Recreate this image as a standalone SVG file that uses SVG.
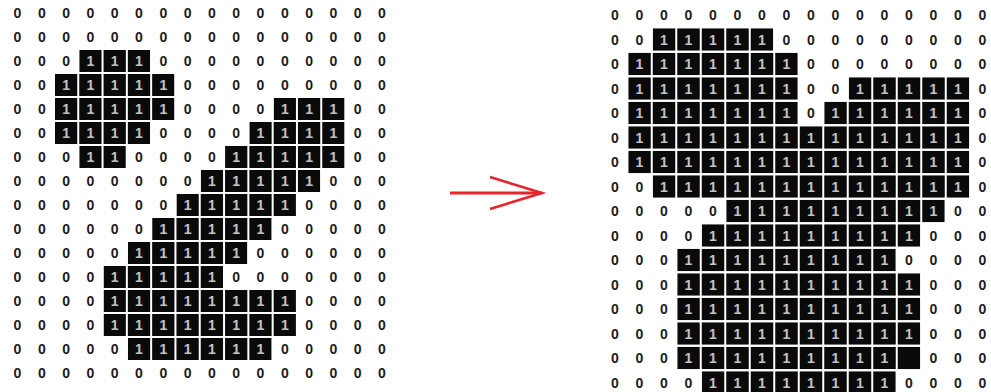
<svg xmlns="http://www.w3.org/2000/svg" width="991" height="392" viewBox="0 0 991 392">
<style>
text{font-family:"Liberation Sans",Arial,sans-serif;font-size:14px;font-weight:bold;text-anchor:middle;fill:#1c1c1c}
.o{fill:#c4c4c4}
.blk{fill:#0a0a0a}
.gl{stroke:#ffffff;stroke-width:2;fill:none}
.arw{stroke:#e3262b;fill:none;stroke-width:3}
</style>
<defs>
<marker id="vhead" markerUnits="userSpaceOnUse" markerWidth="60" markerHeight="40" viewBox="0 0 60 40" refX="54" refY="20" orient="auto">
<path d="M2,4 L54,20 L2,36" fill="none" stroke="#e3262b" stroke-width="2.6"/>
</marker>
</defs>
<rect width="991" height="392" fill="#ffffff"/>

<g id="input-grid">
<g class="blk">
<rect x="79.25" y="50" width="70.9" height="22"/>
<rect x="54.95" y="74" width="119.5" height="22"/>
<rect x="54.95" y="98" width="119.5" height="22"/>
<rect x="273.65" y="98" width="70.9" height="22"/>
<rect x="54.95" y="122" width="95.2" height="22"/>
<rect x="249.35" y="122" width="95.2" height="22"/>
<rect x="79.25" y="146" width="46.6" height="22"/>
<rect x="225.05" y="146" width="119.5" height="22"/>
<rect x="200.75" y="170" width="119.5" height="22"/>
<rect x="176.45" y="194" width="119.5" height="22"/>
<rect x="152.15" y="218" width="119.5" height="22"/>
<rect x="127.85" y="242" width="119.5" height="22"/>
<rect x="103.55" y="266" width="119.5" height="22"/>
<rect x="103.55" y="290" width="192.4" height="22"/>
<rect x="103.55" y="314" width="192.4" height="22"/>
<rect x="127.85" y="338" width="143.8" height="22"/>
</g>
<path class="gl" d="M29.65 0V392M53.95 0V392M78.25 0V392M102.55 0V392M126.85 0V392M151.15 0V392M175.45 0V392M199.75 0V392M224.05 0V392M248.35 0V392M272.65 0V392M296.95 0V392M321.25 0V392M345.55 0V392M369.85 0V392M0 25H395M0 49H395M0 73H395M0 97H395M0 121H395M0 145H395M0 169H395M0 193H395M0 217H395M0 241H395M0 265H395M0 289H395M0 313H395M0 337H395M0 361H395"/>
<text y="18"><tspan x="17.5 41.8 66.1 90.4 114.7 139 163.3 187.6 211.9 236.2 260.5 284.8 309.1 333.4 357.7 382">0000000000000000</tspan></text>
<text y="42"><tspan x="17.5 41.8 66.1 90.4 114.7 139 163.3 187.6 211.9 236.2 260.5 284.8 309.1 333.4 357.7 382">0000000000000000</tspan></text>
<text y="66"><tspan x="17.5 41.8 66.1">000</tspan><tspan class="o" x="90.4 114.7 139">111</tspan><tspan x="163.3 187.6 211.9 236.2 260.5 284.8 309.1 333.4 357.7 382">0000000000</tspan></text>
<text y="90"><tspan x="17.5 41.8">00</tspan><tspan class="o" x="66.1 90.4 114.7 139 163.3">11111</tspan><tspan x="187.6 211.9 236.2 260.5 284.8 309.1 333.4 357.7 382">000000000</tspan></text>
<text y="114"><tspan x="17.5 41.8">00</tspan><tspan class="o" x="66.1 90.4 114.7 139 163.3">11111</tspan><tspan x="187.6 211.9 236.2 260.5">0000</tspan><tspan class="o" x="284.8 309.1 333.4">111</tspan><tspan x="357.7 382">00</tspan></text>
<text y="138"><tspan x="17.5 41.8">00</tspan><tspan class="o" x="66.1 90.4 114.7 139">1111</tspan><tspan x="163.3 187.6 211.9 236.2">0000</tspan><tspan class="o" x="260.5 284.8 309.1 333.4">1111</tspan><tspan x="357.7 382">00</tspan></text>
<text y="162"><tspan x="17.5 41.8 66.1">000</tspan><tspan class="o" x="90.4 114.7">11</tspan><tspan x="139 163.3 187.6 211.9">0000</tspan><tspan class="o" x="236.2 260.5 284.8 309.1 333.4">11111</tspan><tspan x="357.7 382">00</tspan></text>
<text y="186"><tspan x="17.5 41.8 66.1 90.4 114.7 139 163.3 187.6">00000000</tspan><tspan class="o" x="211.9 236.2 260.5 284.8 309.1">11111</tspan><tspan x="333.4 357.7 382">000</tspan></text>
<text y="210"><tspan x="17.5 41.8 66.1 90.4 114.7 139 163.3">0000000</tspan><tspan class="o" x="187.6 211.9 236.2 260.5 284.8">11111</tspan><tspan x="309.1 333.4 357.7 382">0000</tspan></text>
<text y="234"><tspan x="17.5 41.8 66.1 90.4 114.7 139">000000</tspan><tspan class="o" x="163.3 187.6 211.9 236.2 260.5">11111</tspan><tspan x="284.8 309.1 333.4 357.7 382">00000</tspan></text>
<text y="258"><tspan x="17.5 41.8 66.1 90.4 114.7">00000</tspan><tspan class="o" x="139 163.3 187.6 211.9 236.2">11111</tspan><tspan x="260.5 284.8 309.1 333.4 357.7 382">000000</tspan></text>
<text y="282"><tspan x="17.5 41.8 66.1 90.4">0000</tspan><tspan class="o" x="114.7 139 163.3 187.6 211.9">11111</tspan><tspan x="236.2 260.5 284.8 309.1 333.4 357.7 382">0000000</tspan></text>
<text y="306"><tspan x="17.5 41.8 66.1 90.4">0000</tspan><tspan class="o" x="114.7 139 163.3 187.6 211.9 236.2 260.5 284.8">11111111</tspan><tspan x="309.1 333.4 357.7 382">0000</tspan></text>
<text y="330"><tspan x="17.5 41.8 66.1 90.4">0000</tspan><tspan class="o" x="114.7 139 163.3 187.6 211.9 236.2 260.5 284.8">11111111</tspan><tspan x="309.1 333.4 357.7 382">0000</tspan></text>
<text y="354"><tspan x="17.5 41.8 66.1 90.4 114.7">00000</tspan><tspan class="o" x="139 163.3 187.6 211.9 236.2 260.5">111111</tspan><tspan x="284.8 309.1 333.4 357.7 382">00000</tspan></text>
<text y="378"><tspan x="17.5 41.8 66.1 90.4 114.7 139 163.3 187.6 211.9 236.2 260.5 284.8 309.1 333.4 357.7 382">0000000000000000</tspan></text>
</g>

<g id="output-grid">
<g class="blk">
<rect x="652.75" y="28.25" width="120.5" height="22.5"/>
<rect x="628.25" y="52.75" width="169.5" height="22.5"/>
<rect x="628.25" y="77.25" width="169.5" height="22.5"/>
<rect x="848.75" y="77.25" width="120.5" height="22.5"/>
<rect x="628.25" y="101.75" width="169.5" height="22.5"/>
<rect x="824.25" y="101.75" width="145" height="22.5"/>
<rect x="628.25" y="126.25" width="341" height="22.5"/>
<rect x="628.25" y="150.75" width="341" height="22.5"/>
<rect x="652.75" y="175.25" width="316.5" height="22.5"/>
<rect x="726.25" y="199.75" width="218.5" height="22.5"/>
<rect x="701.75" y="224.25" width="218.5" height="22.5"/>
<rect x="677.25" y="248.75" width="218.5" height="22.5"/>
<rect x="677.25" y="273.25" width="243" height="22.5"/>
<rect x="677.25" y="297.75" width="243" height="22.5"/>
<rect x="677.25" y="322.25" width="243" height="22.5"/>
<rect x="677.25" y="346.75" width="243" height="22.5"/>
<rect x="701.75" y="371.25" width="194" height="22.5"/>
</g>
<path class="gl" d="M627.25 0V392M651.75 0V392M676.25 0V392M700.75 0V392M725.25 0V392M749.75 0V392M774.25 0V392M798.75 0V392M823.25 0V392M847.75 0V392M872.25 0V392M896.75 0V392M921.25 0V392M945.75 0V392M970.25 0V392M600 27.25H991M600 51.75H991M600 76.25H991M600 100.75H991M600 125.25H991M600 149.75H991M600 174.25H991M600 198.75H991M600 223.25H991M600 247.75H991M600 272.25H991M600 296.75H991M600 321.25H991M600 345.75H991M600 370.25H991"/>
<text y="20"><tspan x="615 639.5 664 688.5 713 737.5 762 786.5 811 835.5 860 884.5 909 933.5 958 982.5">0000000000000000</tspan></text>
<text y="44.5"><tspan x="615 639.5">00</tspan><tspan class="o" x="664 688.5 713 737.5 762">11111</tspan><tspan x="786.5 811 835.5 860 884.5 909 933.5 958 982.5">000000000</tspan></text>
<text y="69"><tspan x="615">0</tspan><tspan class="o" x="639.5 664 688.5 713 737.5 762 786.5">1111111</tspan><tspan x="811 835.5 860 884.5 909 933.5 958 982.5">00000000</tspan></text>
<text y="93.5"><tspan x="615">0</tspan><tspan class="o" x="639.5 664 688.5 713 737.5 762 786.5">1111111</tspan><tspan x="811 835.5">00</tspan><tspan class="o" x="860 884.5 909 933.5 958">11111</tspan><tspan x="982.5">0</tspan></text>
<text y="118"><tspan x="615">0</tspan><tspan class="o" x="639.5 664 688.5 713 737.5 762 786.5">1111111</tspan><tspan x="811">0</tspan><tspan class="o" x="835.5 860 884.5 909 933.5 958">111111</tspan><tspan x="982.5">0</tspan></text>
<text y="142.5"><tspan x="615">0</tspan><tspan class="o" x="639.5 664 688.5 713 737.5 762 786.5 811 835.5 860 884.5 909 933.5 958">11111111111111</tspan><tspan x="982.5">0</tspan></text>
<text y="167"><tspan x="615">0</tspan><tspan class="o" x="639.5 664 688.5 713 737.5 762 786.5 811 835.5 860 884.5 909 933.5 958">11111111111111</tspan><tspan x="982.5">0</tspan></text>
<text y="191.5"><tspan x="615 639.5">00</tspan><tspan class="o" x="664 688.5 713 737.5 762 786.5 811 835.5 860 884.5 909 933.5 958">1111111111111</tspan><tspan x="982.5">0</tspan></text>
<text y="216"><tspan x="615 639.5 664 688.5 713">00000</tspan><tspan class="o" x="737.5 762 786.5 811 835.5 860 884.5 909 933.5">111111111</tspan><tspan x="958 982.5">00</tspan></text>
<text y="240.5"><tspan x="615 639.5 664 688.5">0000</tspan><tspan class="o" x="713 737.5 762 786.5 811 835.5 860 884.5 909">111111111</tspan><tspan x="933.5 958 982.5">000</tspan></text>
<text y="265"><tspan x="615 639.5 664">000</tspan><tspan class="o" x="688.5 713 737.5 762 786.5 811 835.5 860 884.5">111111111</tspan><tspan x="909 933.5 958 982.5">0000</tspan></text>
<text y="289.5"><tspan x="615 639.5 664">000</tspan><tspan class="o" x="688.5 713 737.5 762 786.5 811 835.5 860 884.5 909">1111111111</tspan><tspan x="933.5 958 982.5">000</tspan></text>
<text y="314"><tspan x="615 639.5 664">000</tspan><tspan class="o" x="688.5 713 737.5 762 786.5 811 835.5 860 884.5 909">1111111111</tspan><tspan x="933.5 958 982.5">000</tspan></text>
<text y="338.5"><tspan x="615 639.5 664">000</tspan><tspan class="o" x="688.5 713 737.5 762 786.5 811 835.5 860 884.5 909">1111111111</tspan><tspan x="933.5 958 982.5">000</tspan></text>
<text y="363"><tspan x="615 639.5 664">000</tspan><tspan class="o" x="688.5 713 737.5 762 786.5 811 835.5 860 884.5">111111111</tspan><tspan x="933.5 958 982.5">000</tspan></text>
<text y="387.5"><tspan x="615 639.5 664 688.5">0000</tspan><tspan class="o" x="713 737.5 762 786.5 811 835.5 860 884.5">11111111</tspan><tspan x="909 933.5 958 982.5">0000</tspan></text>
</g>

<g id="connectors">
<path class="arw" d="M450 193H542" marker-end="url(#vhead)"/>
</g>
</svg>
